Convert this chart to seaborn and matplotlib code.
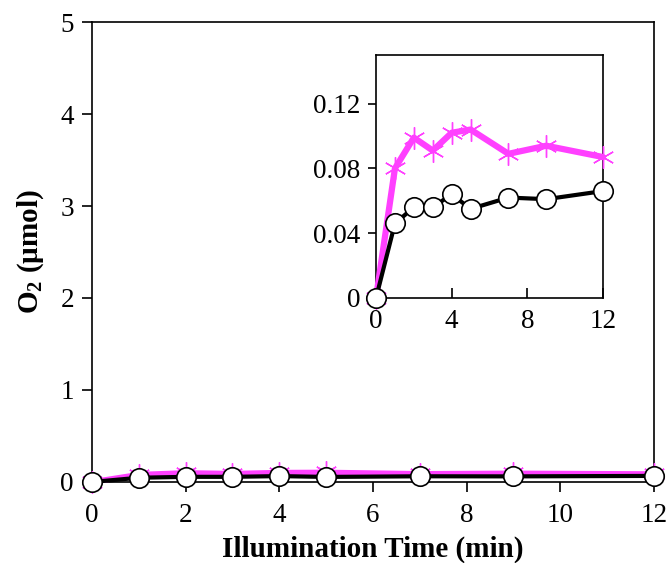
import matplotlib
matplotlib.use("Agg")
import matplotlib.pyplot as plt
import matplotlib.ticker as mticker
import pandas as pd
import seaborn as sns

# Illumination time (min) and evolved O2 (umol) for the two samples
time_min = [0, 1, 2, 3, 4, 5, 7, 9, 12]
o2_pink = [0.0, 0.080, 0.099, 0.091, 0.102, 0.104, 0.089, 0.094, 0.087]
o2_black = [0.0, 0.046, 0.056, 0.056, 0.064, 0.055, 0.062, 0.061, 0.066]

main_xticks = [0, 2, 4, 6, 8, 10, 12]
main_yticks = [0, 1, 2, 3, 4, 5]
inset_xticks = [0, 4, 8, 12]
inset_yticks = [0, 0.04, 0.08, 0.12]
inset_ylabels = ["0", "0.04", "0.08", "0.12"]

df = pd.DataFrame({"time": time_min, "pink": o2_pink, "black": o2_black})

sns.set_theme(style="white")
plt.rcParams["font.family"] = ["Liberation Serif", "DejaVu Serif"]
plt.rcParams["mathtext.fontset"] = "custom"
plt.rcParams["mathtext.rm"] = "Liberation Serif"
plt.rcParams["mathtext.bf"] = "Liberation Serif:bold"
plt.rcParams["text.color"] = "black"
plt.rcParams["axes.labelcolor"] = "black"

PINK = "#FF40FF"
FS = 19.5

fig = plt.figure(figsize=(6.68, 5.63), dpi=100)
ax = fig.add_axes([0.1377, 0.1439, 0.9790 - 0.1377, 0.9609 - 0.1439])
ins = fig.add_axes([0.5629, 0.4707, 0.9027 - 0.5629, 0.9023 - 0.4707])


def draw_series(a, pink_lw, black_lw):
    sns.lineplot(data=df, x="time", y="pink", ax=a, color=PINK, lw=pink_lw,
                 marker=(6, 2, 0), markersize=16, markeredgecolor=PINK,
                 markeredgewidth=1.0, clip_on=False, zorder=3)
    sns.lineplot(data=df, x="time", y="black", ax=a, color="black", lw=black_lw,
                 marker="o", markersize=14, markerfacecolor="white",
                 markeredgecolor="black", markeredgewidth=1.2,
                 clip_on=False, zorder=4)


draw_series(ax, 4.0, 3.0)
draw_series(ins, 4.5, 3.0)

for a in (ax, ins):
    for s in a.spines.values():
        s.set_visible(True)
        s.set_color("black")
        s.set_linewidth(1.2)
    a.set_facecolor("white")

# main axes
ax.set_xlim(0, 12)
ax.set_ylim(0, 5)
ax.set_xticks(main_xticks)
ax.set_yticks(main_yticks)
ax.tick_params(axis="both", direction="out", length=7, width=1.2,
               labelsize=FS, colors="black", labelcolor="black")
ax.tick_params(axis="x", bottom=True, pad=8)
ax.tick_params(axis="y", left=True, pad=6)
ax.set_xlabel("Illumination Time (min)", fontsize=21, fontweight="bold",
              labelpad=6, color="black")
ax.set_ylabel(r"$\mathbf{O_2}$ (µmol)", fontsize=21, fontweight="bold",
              labelpad=10, color="black")

# inset
ins.set_xlim(0, 12)
ins.set_ylim(0, 0.15)
ins.set_xticks(inset_xticks)
ins.set_yticks(inset_yticks)
ins.yaxis.set_major_formatter(mticker.FixedFormatter(inset_ylabels))
ins.tick_params(axis="x", direction="in", bottom=True, length=7, width=1.2,
                labelsize=FS, colors="black", labelcolor="black", pad=8)
ins.tick_params(axis="y", direction="out", left=True, length=6, width=1.2,
                labelsize=FS, colors="black", labelcolor="black", pad=5)
ins.set_xlabel("")
ins.set_ylabel("")

fig.savefig("out.png", dpi=100)
